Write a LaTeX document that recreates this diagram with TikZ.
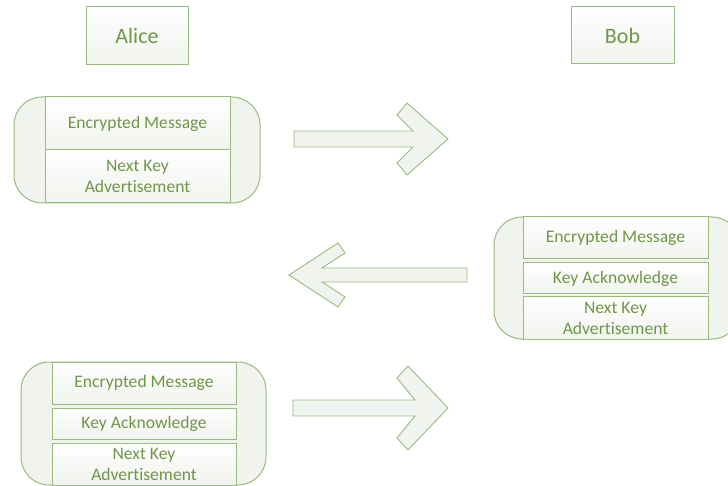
\documentclass[tikz,border=0pt]{standalone}
\usepackage{fontspec}
\setmainfont{Carlito}[Ligatures=NoCommon]
\definecolor{gborder}{RGB}{155,187,125}
\definecolor{gtext}{RGB}{112,150,72}
\definecolor{gfill}{RGB}{240,243,238}
\begin{document}
\begin{tikzpicture}[x=1pt,y=-1pt,
  titlebox/.style={draw=gborder, line width=1pt, top color=white, bottom color=gfill, text=gtext,
    font=\fontsize{22}{24}\selectfont, inner sep=0, outer sep=0},
  group/.style={draw=gborder, line width=1pt, fill=gfill, rounded corners=28pt, inner sep=0, outer sep=0},
  field/.style={draw=gborder, line width=1pt, top color=white, bottom color=gfill, text=gtext,
    font=\fontsize{17.6}{21}\selectfont, align=center, inner sep=0, outer sep=0},
  bigarrow/.style={draw=gborder, line width=0.9pt, fill=gfill, line join=miter}]
\useasboundingbox (0,0) rectangle (728,486);
\clip (0,0) rectangle (728,486);

% titles
\node[titlebox, minimum width=102pt, minimum height=58pt] (alice) at (137,36) {Alice};
\node[titlebox, minimum width=103pt, minimum height=57pt] (bob) at (622.5,35.5) {Bob};

% group 1
\node[group, minimum width=246pt, minimum height=106pt] (g1) at (137,150) {};
\node[field, minimum width=185pt, minimum height=53pt] (g1a) at (137.5,123.5) {Encrypted Message};
\node[field, minimum width=185pt, minimum height=53pt] (g1b) at (137.5,176.5) {Next Key\\Advertisement};

% group 2
\node[group, minimum width=246pt, minimum height=122pt] (g2) at (617,278) {};
\node[field, minimum width=185pt, minimum height=42pt] (g2a) at (615.5,238) {Encrypted Message};
\node[field, minimum width=185pt, minimum height=31pt] (g2b) at (615.5,278.5) {Key Acknowledge};
\node[field, minimum width=185pt, minimum height=42pt] (g2c) at (615.5,318) {Next Key\\Advertisement};

% group 3
\node[group, minimum width=245pt, minimum height=123pt] (g3) at (143.5,423.5) {};
\node[field, minimum width=184pt, minimum height=42pt] (g3a) at (144,383) {Encrypted Message};
\node[field, minimum width=184pt, minimum height=31pt] (g3b) at (144,423.5) {Key Acknowledge};
\node[field, minimum width=184pt, minimum height=42pt] (g3c) at (144,464) {Next Key\\Advertisement};

% arrows
\draw[bigarrow] (294,131) -- (413,131) -- (397,115) -- (407,103) -- (448,139) -- (407,175) -- (397,163) -- (413,147) -- (294,147) -- cycle;
\draw[bigarrow] (467,268) -- (322,268) -- (345,253) -- (338,243) -- (289,275) -- (338,307) -- (345,297) -- (322,282) -- (467,282) -- cycle;
\draw[bigarrow] (293,400) -- (415,400) -- (397,378) -- (408,366) -- (448,408) -- (408,450) -- (397,438) -- (415,416) -- (293,416) -- cycle;
\end{tikzpicture}
\end{document}
